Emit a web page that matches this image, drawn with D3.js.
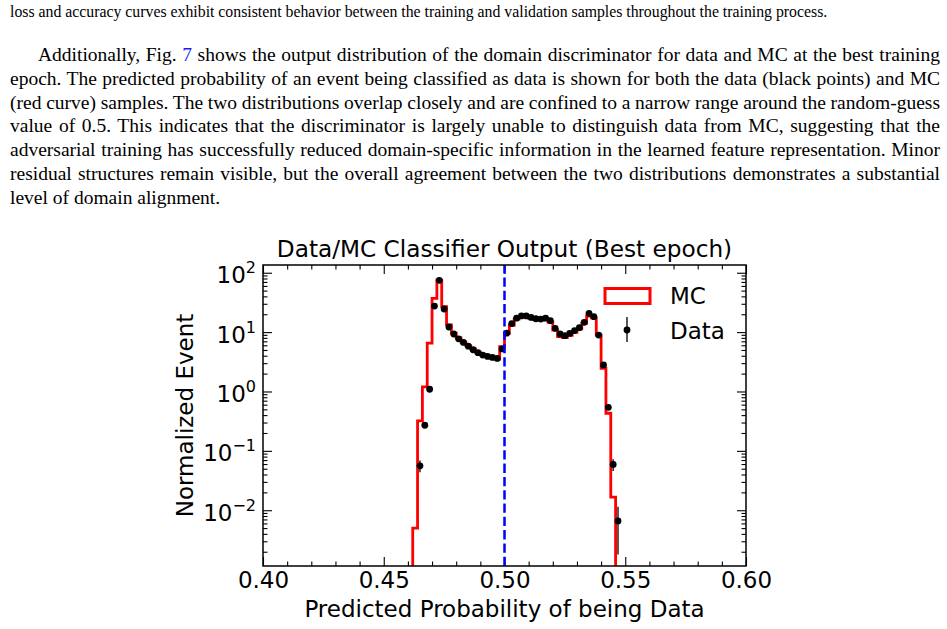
<!DOCTYPE html>
<html>
<head>
<meta charset="utf-8">
<script src="https://cdn.jsdelivr.net/npm/d3@7"></script>
<style>
body { margin: 0; background: #fff; }
svg { display: block; }
</style>
</head>
<body>
<div id="c"></div>
<script>
// text around the figure
var captionLine = "loss and accuracy curves exhibit consistent behavior between the training and validation samples throughout the training process.";
var paraLines = [
	"Additionally, Fig. {7} shows the output distribution of the domain discriminator for data and MC at the best training",
	"epoch. The predicted probability of an event being classified as data is shown for both the data (black points) and MC",
	"(red curve) samples. The two distributions overlap closely and are confined to a narrow range around the random-guess",
	"value of 0.5. This indicates that the discriminator is largely unable to distinguish data from MC, suggesting that the",
	"adversarial training has successfully reduced domain-specific information in the learned feature representation. Minor",
	"residual structures remain visible, but the overall agreement between the two distributions demonstrates a substantial",
	"level of domain alignment."
];

// histogram binning (bin k spans binStart + k*binWidth .. + binWidth)
var binStart = 0.462;
var binWidth = 0.002;

// MC step histogram, one value per bin (0 = empty bin)
var mcValues = [0.005, 0.32, 1.2, 6.5, 37, 75, 26.8, 13.2, 9.6, 8.0,
	6.8, 5.9, 5.2, 4.6, 4.2, 3.9, 3.7, 3.5, 5.7, 9.5,
	13.0, 16.5, 18.4, 18.3, 17.2, 16.3, 16.0, 16.8, 14.8, 10.8,
	8.4, 8.1, 8.8, 9.9, 11.3, 14.0, 18.6, 17.4, 8.9, 2.45,
	0.43, 0.0166, 0];

// data points (null = no entry) and their error bars
var dataValues = [null, 0.056, 0.27, 1.09, 27.5, 74.5, 24.5, 12.2, 9.3, 7.7,
	6.7, 5.8, 5.05, 4.5, 4.1, 3.9, 3.75, 3.6, 5.2, 9.6,
	13.9, 17.2, 18.7, 18.7, 17.7, 16.8, 16.6, 17.2, 15.6, 11.6,
	9.3, 8.7, 9.5, 10.6, 11.9, 14.6, 20.7, 18.2, 8.9, 2.8,
	0.54, 0.059, 0.0066];
var dataErrors = [0, 0.0125, 0.028, 0.055, 0.28, 0.46, 0.26, 0.185, 0.16, 0.147,
	0.137, 0.127, 0.119, 0.112, 0.107, 0.104, 0.102, 0.1, 0.121, 0.164,
	0.197, 0.219, 0.229, 0.229, 0.223, 0.217, 0.216, 0.219, 0.209, 0.18,
	0.161, 0.156, 0.163, 0.172, 0.183, 0.202, 0.241, 0.226, 0.158, 0.089,
	0.039, 0.013, 0.0048];

var xMajor = [0.40, 0.45, 0.50, 0.55, 0.60];
var yMajor = [1e-2, 1e-1, 1e0, 1e1, 1e2];
var xDomain = [0.40, 0.60];
var yDomain = [1.15e-3, 135];
var guessValue = 0.5;

var titleText = "Data/MC Classifier Output (Best epoch)";
var xLabel = "Predicted Probability of being Data";
var yLabel = "Normalized Event";

var width = 947;
var height = 629;
var plot = {left: 263, right: 746, top: 265, bottom: 566};

var sans = "'DejaVu Sans', sans-serif";
var serif = "'Liberation Serif', 'Times New Roman', serif";

var svg = d3.select("#c").append("svg")
	.attr("width", width)
	.attr("height", height);

svg.append("rect")
	.attr("width", width)
	.attr("height", height)
	.attr("fill", "#fff");

// page text
svg.append("text")
	.attr("x", 10)
	.attr("y", 17)
	.attr("font-family", serif)
	.attr("font-size", 15.8)
	.attr("fill", "#000")
	.text(captionLine);

paraLines.forEach(function(line, i) {
	var x0 = (i === 0) ? 38 : 10;
	var t = svg.append("text")
		.attr("x", x0)
		.attr("y", 61 + 23.8 * i)
		.attr("font-family", serif)
		.attr("font-size", 19.5)
		.attr("fill", "#000");
	var parts = line.split(/\{|\}/);
	parts.forEach(function(p, j) {
		t.append("tspan")
			.attr("fill", (j % 2 === 1) ? "#1a1aff" : "#000")
			.text(p);
	});
	// justify every line but the last
	if (i < paraLines.length - 1) {
		var natural = t.node().getComputedTextLength();
		var spaces = line.split(" ").length - 1;
		t.attr("word-spacing", (940 - x0 - natural) / spaces);
	}
});

// scales
var x = d3.scaleLinear().domain(xDomain).range([plot.left, plot.right]);
var y = d3.scaleLog().domain(yDomain).range([plot.bottom, plot.top]);

var xMinor = d3.range(40, 61).map(function(d) { return d / 100; })
	.filter(function(d) { return Math.round(d * 100) % 5 !== 0; });
var yMinor = [];
for (var e = -3; e <= 2; e++) {
	for (var m = 2; m <= 9; m++) {
		var v = m * Math.pow(10, e);
		if (v > yDomain[0] && v < yDomain[1]) yMinor.push(v);
	}
}

function styleAxis(g) {
	g.select(".domain").remove();
	g.selectAll(".tick line").attr("stroke", "#000").attr("stroke-width", 1.1);
	g.attr("font-family", sans).attr("font-size", 23);
	g.selectAll(".tick text").attr("fill", "#000");
}

// axes, ticks pointing inward on all four sides
svg.append("g")
	.attr("transform", "translate(0," + plot.bottom + ")")
	.call(d3.axisBottom(x).tickValues(xMajor).tickFormat(d3.format(".2f")).tickSize(-9).tickPadding(6))
	.call(styleAxis);
svg.append("g")
	.attr("transform", "translate(0," + plot.bottom + ")")
	.call(d3.axisBottom(x).tickValues(xMinor).tickFormat("").tickSize(-4.5))
	.call(styleAxis);
svg.append("g")
	.attr("transform", "translate(0," + plot.top + ")")
	.call(d3.axisTop(x).tickValues(xMajor).tickFormat("").tickSize(-9))
	.call(styleAxis);
svg.append("g")
	.attr("transform", "translate(0," + plot.top + ")")
	.call(d3.axisTop(x).tickValues(xMinor).tickFormat("").tickSize(-4.5))
	.call(styleAxis);

var yAxisG = svg.append("g")
	.attr("transform", "translate(" + plot.left + ",0)")
	.call(d3.axisLeft(y).tickValues(yMajor).tickSize(-9).tickPadding(7))
	.call(styleAxis);
svg.append("g")
	.attr("transform", "translate(" + plot.left + ",0)")
	.call(d3.axisLeft(y).tickValues(yMinor).tickFormat("").tickSize(-4.5))
	.call(styleAxis);
svg.append("g")
	.attr("transform", "translate(" + plot.right + ",0)")
	.call(d3.axisRight(y).tickValues(yMajor).tickFormat("").tickSize(-9))
	.call(styleAxis);
svg.append("g")
	.attr("transform", "translate(" + plot.right + ",0)")
	.call(d3.axisRight(y).tickValues(yMinor).tickFormat("").tickSize(-4.5))
	.call(styleAxis);

// 10^n labels with superscripts
yAxisG.selectAll(".tick text")
	.text(null)
	.attr("dy", "10px")
	.each(function(d) {
		var p = Math.round(Math.log10(d));
		var t = d3.select(this);
		t.append("tspan").text("10");
		t.append("tspan")
			.attr("dy", -10)
			.attr("font-size", 16)
			.text(p < 0 ? "\u2212" + (-p) : String(p));
	});

// plot contents
svg.append("clipPath")
	.attr("id", "plot-clip")
	.append("rect")
	.attr("x", plot.left)
	.attr("y", plot.top)
	.attr("width", plot.right - plot.left)
	.attr("height", plot.bottom - plot.top);

var inner = svg.append("g").attr("clip-path", "url(#plot-clip)");

var floorVal = yDomain[0] / 10;
var stepPts = [[binStart, floorVal]];
mcValues.forEach(function(v, i) {
	var lo = binStart + i * binWidth;
	var vv = v > 0 ? v : floorVal;
	stepPts.push([lo, vv], [lo + binWidth, vv]);
});
stepPts.push([binStart + mcValues.length * binWidth, floorVal]);

var stepLine = d3.line()
	.x(function(d) { return x(d[0]); })
	.y(function(d) { return y(Math.max(d[1], floorVal)); });

inner.append("path")
	.attr("d", stepLine(stepPts))
	.attr("fill", "none")
	.attr("stroke", "#ff0000")
	.attr("stroke-width", 2.8)
	.attr("stroke-linejoin", "miter");

var pts = [];
dataValues.forEach(function(v, i) {
	if (v !== null) pts.push({c: binStart + (i + 0.5) * binWidth, v: v, err: dataErrors[i]});
});

inner.selectAll(".err")
	.data(pts)
	.enter()
	.append("line")
	.attr("class", "err")
	.attr("x1", function(d) { return x(d.c); })
	.attr("x2", function(d) { return x(d.c); })
	.attr("y1", function(d) { return y(Math.max(d.v - d.err, floorVal)); })
	.attr("y2", function(d) { return y(d.v + d.err); })
	.attr("stroke", "#222")
	.attr("stroke-width", 1.5);

inner.selectAll(".pt")
	.data(pts)
	.enter()
	.append("circle")
	.attr("class", "pt")
	.attr("cx", function(d) { return x(d.c); })
	.attr("cy", function(d) { return y(d.v); })
	.attr("r", 3.4)
	.attr("fill", "#000");

inner.append("line")
	.attr("x1", x(guessValue))
	.attr("x2", x(guessValue))
	.attr("y1", plot.bottom)
	.attr("y2", plot.top)
	.attr("stroke", "#0000ff")
	.attr("stroke-width", 2.5)
	.attr("stroke-dasharray", "9.3,4");

// frame
svg.append("rect")
	.attr("x", plot.left)
	.attr("y", plot.top)
	.attr("width", plot.right - plot.left)
	.attr("height", plot.bottom - plot.top)
	.attr("fill", "none")
	.attr("stroke", "#000")
	.attr("stroke-width", 1.5);

// legend
var leg = svg.append("g").attr("font-family", sans).attr("font-size", 23).attr("fill", "#000");
leg.append("rect")
	.attr("x", 605).attr("y", 288.5)
	.attr("width", 45).attr("height", 15)
	.attr("fill", "none")
	.attr("stroke", "#ff0000")
	.attr("stroke-width", 3);
leg.append("text").attr("x", 670).attr("y", 304).text("MC");
leg.append("line")
	.attr("x1", 627).attr("x2", 627)
	.attr("y1", 317).attr("y2", 342)
	.attr("stroke", "#222").attr("stroke-width", 1.5);
leg.append("circle").attr("cx", 627).attr("cy", 330).attr("r", 3.4).attr("fill", "#000");
leg.append("text").attr("x", 670).attr("y", 338.5).text("Data");

// titles
svg.append("text")
	.attr("x", (plot.left + plot.right) / 2)
	.attr("y", 257)
	.attr("text-anchor", "middle")
	.attr("font-family", sans)
	.attr("font-size", 23.2)
	.text(titleText);

svg.append("text")
	.attr("x", (plot.left + plot.right) / 2)
	.attr("y", 617)
	.attr("text-anchor", "middle")
	.attr("font-family", sans)
	.attr("font-size", 23)
	.text(xLabel);

svg.append("text")
	.attr("transform", "translate(193," + ((plot.top + plot.bottom) / 2) + ") rotate(-90)")
	.attr("text-anchor", "middle")
	.attr("font-family", sans)
	.attr("font-size", 23)
	.text(yLabel);
</script>
</body>
</html>
